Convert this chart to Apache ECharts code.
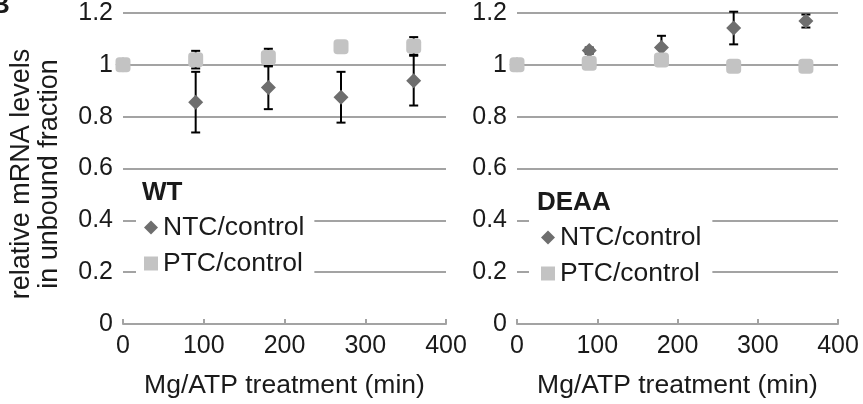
<!DOCTYPE html>
<html>
<head>
<meta charset="utf-8">
<script src="https://cdn.jsdelivr.net/npm/echarts@6/dist/echarts.min.js"></script>
<style>
  html, body { margin: 0; padding: 0; background: #fff; }
  #chart { width: 863px; height: 404px; }
</style>
</head>
<body>
<div id="chart"></div>
<script>
const timePoints = [0, 90, 180, 270, 360];

const wtNtc = [1.0, 0.856, 0.913, 0.875, 0.939];
const wtNtcErr = [0, 0.117, 0.084, 0.098, 0.096];
const wtPtc = [1.0, 1.02, 1.028, 1.07, 1.073];
const wtPtcErr = [0, 0.034, 0.034, 0, 0.034];

const deaaNtc = [1.0, 1.055, 1.067, 1.142, 1.169];
const deaaNtcErr = [0, 0.012, 0.045, 0.063, 0.025];
const deaaPtc = [1.0, 1.006, 1.019, 0.995, 0.995];
const deaaPtcErr = [0, 0, 0, 0, 0];

const FONT = "'Liberation Sans', Arial, Helvetica, sans-serif";
const TEXT_COLOR = "#1a1a1a";
const GRID_COLOR = "#a3a3a3";
const NTC_COLOR = "#6e6e6e";
const PTC_COLOR = "#c3c3c3";

const points = (values) => timePoints.map((t, i) => [t, values[i]]);

const errorData = (values, errs) =>
  timePoints
    .map((t, i) => [t, values[i] - errs[i], values[i] + errs[i]])
    .filter((d) => d[2] - d[1] > 0);

const renderErrorBar = (params, api) => {
  const low = api.coord([api.value(0), api.value(1)]);
  const high = api.coord([api.value(0), api.value(2)]);
  const cap = 4.5;
  const style = { stroke: "#000", lineWidth: 2 };
  return {
    type: "group",
    children: [
      { type: "line", shape: { x1: low[0], y1: low[1], x2: high[0], y2: high[1] }, style },
      { type: "line", shape: { x1: high[0] - cap, y1: high[1], x2: high[0] + cap, y2: high[1] }, style },
      { type: "line", shape: { x1: low[0] - cap, y1: low[1], x2: low[0] + cap, y2: low[1] }, style }
    ]
  };
};

const makeXAxis = (gridIndex) => ({
  gridIndex,
  type: "value",
  min: 0,
  max: 400,
  interval: 100,
  name: "Mg/ATP treatment (min)",
  nameLocation: "middle",
  nameGap: 48,
  nameTextStyle: { fontFamily: FONT, fontSize: 26.5, color: TEXT_COLOR },
  axisLine: { show: true, lineStyle: { color: GRID_COLOR, width: 2 } },
  axisTick: { show: true, inside: true, length: 5, lineStyle: { color: GRID_COLOR, width: 2 } },
  axisLabel: { fontFamily: FONT, fontSize: 25, color: TEXT_COLOR, margin: 10 },
  splitLine: { show: false }
});

const makeYAxis = (gridIndex) => ({
  gridIndex,
  type: "value",
  min: 0,
  max: 1.2,
  interval: 0.2,
  axisLine: { show: false },
  axisTick: { show: false },
  axisLabel: { fontFamily: FONT, fontSize: 25, color: TEXT_COLOR, margin: 10 },
  splitLine: { show: true, lineStyle: { color: GRID_COLOR, width: 2 } }
});

const makeSeries = (idx, ntc, ntcErr, ptc, ptcErr) => [
  {
    name: "NTC/control",
    type: "custom",
    xAxisIndex: idx,
    yAxisIndex: idx,
    renderItem: renderErrorBar,
    encode: { x: 0, y: [1, 2] },
    itemStyle: { color: NTC_COLOR },
    data: errorData(ntc, ntcErr),
    z: 2
  },
  {
    name: "NTC/control",
    type: "scatter",
    xAxisIndex: idx,
    yAxisIndex: idx,
    symbol: "diamond",
    symbolSize: 15,
    itemStyle: { color: NTC_COLOR, opacity: 1 },
    data: points(ntc),
    z: 3
  },
  {
    name: "PTC/control",
    type: "custom",
    xAxisIndex: idx,
    yAxisIndex: idx,
    renderItem: renderErrorBar,
    encode: { x: 0, y: [1, 2] },
    itemStyle: { color: PTC_COLOR },
    data: errorData(ptc, ptcErr),
    z: 4
  },
  {
    name: "PTC/control",
    type: "scatter",
    xAxisIndex: idx,
    yAxisIndex: idx,
    symbol: "roundRect",
    symbolSize: 15,
    itemStyle: { color: PTC_COLOR, opacity: 1 },
    data: points(ptc),
    z: 5
  }
];

const makeLegend = (left, top, padding) => ({
  orient: "vertical",
  left,
  top,
  padding,
  backgroundColor: "#fff",
  itemWidth: 14,
  itemHeight: 14,
  itemGap: 9,
  textStyle: { fontFamily: FONT, fontSize: 26.5, color: TEXT_COLOR, lineHeight: 26 },
  data: [
    { name: "NTC/control", icon: "diamond", itemStyle: { color: NTC_COLOR } },
    { name: "PTC/control", icon: "rect", itemStyle: { color: PTC_COLOR } }
  ],
  z: 10
});

const chart = echarts.init(document.getElementById("chart"));

chart.setOption({
  animation: false,
  backgroundColor: "#fff",
  grid: [
    { left: 123, right: 417, top: 13, bottom: 79 },
    { left: 517, right: 25, top: 13, bottom: 79 }
  ],
  xAxis: [makeXAxis(0), makeXAxis(1)],
  yAxis: [makeYAxis(0), makeYAxis(1)],
  title: [
    { text: "WT", left: 142, top: 180, padding: 0, textStyle: { fontFamily: FONT, fontSize: 26, fontWeight: "bold", color: TEXT_COLOR } },
    { text: "DEAA", left: 537, top: 190, padding: 0, textStyle: { fontFamily: FONT, fontSize: 26, fontWeight: "bold", color: TEXT_COLOR } }
  ],
  legend: [makeLegend(136, 208, [6, 10, 6, 8]), makeLegend(529, 218, [6, 11, 6, 12])],
  graphic: [
    {
      type: "text",
      x: 36,
      y: 174,
      rotation: Math.PI / 2,
      style: {
        text: "relative mRNA levels\nin unbound fraction",
        font: `27px ${FONT}`,
        fill: TEXT_COLOR,
        align: "center",
        verticalAlign: "middle",
        lineHeight: 28
      }
    },
    {
      type: "text",
      left: -9,
      top: -7,
      style: { text: "B", font: `bold 26px ${FONT}`, fill: TEXT_COLOR }
    }
  ],
  series: [
    ...makeSeries(0, wtNtc, wtNtcErr, wtPtc, wtPtcErr),
    ...makeSeries(1, deaaNtc, deaaNtcErr, deaaPtc, deaaPtcErr)
  ]
});
</script>
</body>
</html>
